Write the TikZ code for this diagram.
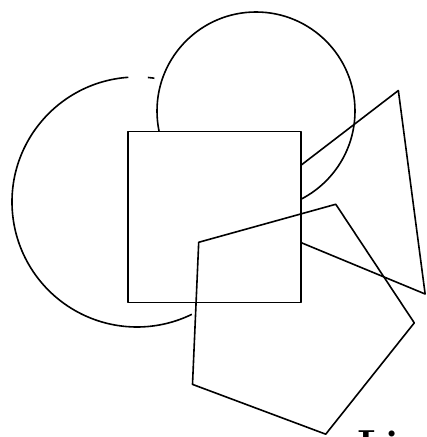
\documentclass[tikz,border=0pt]{standalone}
\usepackage{tikz}
\tikzset{
  outline/.style = {black,line width=1.6pt,line join=round},
  cover/.style   = {outline,fill=white},
  caption/.style = {font=\fontsize{42}{42}\selectfont\bfseries,inner sep=0pt,anchor=base west}
}
\begin{document}
\begin{tikzpicture}[x=1pt,y=1pt]
  \useasboundingbox (0,0) rectangle (427,437);
  \clip (0,0) rectangle (427,437);
  % left circle: only the part that shows
  \draw[outline] (137,235) ++(94:125) arc[start angle=94,end angle=296,radius=125];
  \draw[outline] (137,235) ++(82:125) arc[start angle=82,end angle=85,radius=125];
  \draw[outline] (256,326) circle (99);
  \draw[outline,shift={(353,237)}] (67.5:118.5) -- (187.5:118.5) -- (307.5:118.5) -- cycle;
  \draw[cover] (128,134.5) rectangle (301,305.5);
  \draw[outline,shift={(293.4,119.4)}] (-2.5:121) -- (69.5:121) -- (141.5:121)
                                       -- (213.5:121) -- (285.5:121) -- cycle;
  \node[caption] (title) at (357,-22) {Lis};
\end{tikzpicture}
\end{document}
